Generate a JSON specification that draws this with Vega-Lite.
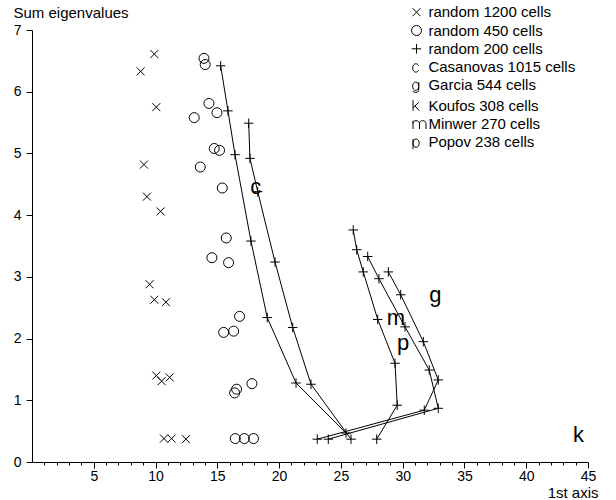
{
  "$schema": "https://vega.github.io/schema/vega-lite/v6.json",
  "width": 556,
  "height": 432,
  "autosize": "none",
  "padding": {"left": 32, "top": 30, "right": 28, "bottom": 38},
  "background": "white",
  "config": {
    "view": {"stroke": null},
    "font": "Liberation Sans",
    "axis": {
      "grid": false,
      "domainColor": "black",
      "tickColor": "black",
      "labelColor": "black",
      "titleColor": "black",
      "labelFont": "Liberation Sans",
      "titleFont": "Liberation Sans",
      "labelFontSize": 14,
      "titleFontSize": 15,
      "titleFontWeight": "normal",
      "domainWidth": 1,
      "tickWidth": 1
    }
  },
  "datasets": {
    "pts": [
      {"series": "random 1200 cells", "x": 9.90, "y": 6.61},
      {"series": "random 1200 cells", "x": 8.79, "y": 6.33},
      {"series": "random 1200 cells", "x": 10.06, "y": 5.75},
      {"series": "random 1200 cells", "x": 9.06, "y": 4.82},
      {"series": "random 1200 cells", "x": 9.30, "y": 4.30},
      {"series": "random 1200 cells", "x": 10.41, "y": 4.06},
      {"series": "random 1200 cells", "x": 9.52, "y": 2.88},
      {"series": "random 1200 cells", "x": 9.90, "y": 2.63},
      {"series": "random 1200 cells", "x": 10.84, "y": 2.59},
      {"series": "random 1200 cells", "x": 10.06, "y": 1.40},
      {"series": "random 1200 cells", "x": 10.49, "y": 1.31},
      {"series": "random 1200 cells", "x": 11.14, "y": 1.37},
      {"series": "random 1200 cells", "x": 10.68, "y": 0.38},
      {"series": "random 1200 cells", "x": 11.30, "y": 0.38},
      {"series": "random 1200 cells", "x": 12.46, "y": 0.37},
      {"series": "random 450 cells", "x": 13.92, "y": 6.54},
      {"series": "random 450 cells", "x": 14.02, "y": 6.44},
      {"series": "random 450 cells", "x": 14.32, "y": 5.81},
      {"series": "random 450 cells", "x": 13.13, "y": 5.58},
      {"series": "random 450 cells", "x": 14.97, "y": 5.66},
      {"series": "random 450 cells", "x": 14.75, "y": 5.08},
      {"series": "random 450 cells", "x": 15.18, "y": 5.05},
      {"series": "random 450 cells", "x": 13.62, "y": 4.78},
      {"series": "random 450 cells", "x": 15.40, "y": 4.44},
      {"series": "random 450 cells", "x": 15.72, "y": 3.63},
      {"series": "random 450 cells", "x": 14.56, "y": 3.31},
      {"series": "random 450 cells", "x": 15.91, "y": 3.23},
      {"series": "random 450 cells", "x": 16.80, "y": 2.36},
      {"series": "random 450 cells", "x": 15.51, "y": 2.10},
      {"series": "random 450 cells", "x": 16.32, "y": 2.12},
      {"series": "random 450 cells", "x": 17.80, "y": 1.27},
      {"series": "random 450 cells", "x": 16.56, "y": 1.18},
      {"series": "random 450 cells", "x": 16.40, "y": 1.12},
      {"series": "random 450 cells", "x": 16.45, "y": 0.38},
      {"series": "random 450 cells", "x": 17.18, "y": 0.38},
      {"series": "random 450 cells", "x": 17.93, "y": 0.38},
      {"series": "random 200 cells", "path": "A", "x": 15.27, "y": 6.42},
      {"series": "random 200 cells", "path": "A", "x": 15.86, "y": 5.69},
      {"series": "random 200 cells", "path": "A", "x": 16.43, "y": 4.98},
      {"series": "random 200 cells", "path": "A", "x": 17.72, "y": 3.58},
      {"series": "random 200 cells", "path": "A", "x": 19.04, "y": 2.34},
      {"series": "random 200 cells", "path": "A", "x": 21.37, "y": 1.28},
      {"series": "random 200 cells", "path": "A", "x": 25.41, "y": 0.47},
      {"series": "random 200 cells", "path": "B", "x": 17.54, "y": 5.49},
      {"series": "random 200 cells", "path": "B", "x": 17.64, "y": 4.92},
      {"series": "random 200 cells", "path": "B", "x": 18.27, "y": 4.38},
      {"series": "random 200 cells", "path": "B", "x": 19.67, "y": 3.24},
      {"series": "random 200 cells", "path": "B", "x": 21.10, "y": 2.18},
      {"series": "random 200 cells", "path": "B", "x": 22.58, "y": 1.26},
      {"series": "random 200 cells", "path": "B", "x": 25.82, "y": 0.37},
      {"series": "random 200 cells", "path": "C", "x": 26.00, "y": 3.76},
      {"series": "random 200 cells", "path": "C", "x": 26.28, "y": 3.44},
      {"series": "random 200 cells", "path": "C", "x": 26.81, "y": 3.08},
      {"series": "random 200 cells", "path": "C", "x": 27.98, "y": 2.31},
      {"series": "random 200 cells", "path": "C", "x": 29.38, "y": 1.60},
      {"series": "random 200 cells", "path": "C", "x": 29.56, "y": 0.92},
      {"series": "random 200 cells", "path": "C", "x": 27.90, "y": 0.37},
      {"series": "random 200 cells", "path": "D", "x": 27.17, "y": 3.33},
      {"series": "random 200 cells", "path": "D", "x": 28.08, "y": 2.97},
      {"series": "random 200 cells", "path": "D", "x": 30.19, "y": 2.19},
      {"series": "random 200 cells", "path": "D", "x": 32.15, "y": 1.49},
      {"series": "random 200 cells", "path": "D", "x": 32.88, "y": 0.87},
      {"series": "random 200 cells", "path": "D", "x": 23.98, "y": 0.37},
      {"series": "random 200 cells", "path": "E", "x": 28.84, "y": 3.08},
      {"series": "random 200 cells", "path": "E", "x": 29.84, "y": 2.71},
      {"series": "random 200 cells", "path": "E", "x": 31.67, "y": 1.95},
      {"series": "random 200 cells", "path": "E", "x": 32.88, "y": 1.33},
      {"series": "random 200 cells", "path": "E", "x": 31.75, "y": 0.84},
      {"series": "random 200 cells", "path": "E", "x": 23.09, "y": 0.37}
    ],
    "letters": [
      {"letter": "c", "name": "Casanovas 1015 cells", "x": 18.10, "y": 4.35},
      {"letter": "g", "name": "Garcia 544 cells", "x": 32.64, "y": 2.60},
      {"letter": "k", "name": "Koufos 308 cells", "x": 44.23, "y": 0.33},
      {"letter": "m", "name": "Minwer 270 cells", "x": 29.45, "y": 2.22},
      {"letter": "p", "name": "Popov 238 cells", "x": 30.03, "y": 1.815}
    ]
  },
  "data": {"name": "pts"},
  "encoding": {
    "x": {
      "field": "x",
      "type": "quantitative",
      "scale": {"domain": [0, 45], "nice": false, "zero": false},
      "axis": {
        "title": "1st axis",
        "titleAlign": "right",
        "titleAnchor": null,
        "titleX": 566,
        "titleY": 35,
        "titleBaseline": "alphabetic",
        "values": [1,2,3,4,5,6,7,8,9,10,11,12,13,14,15,16,17,18,19,20,21,22,23,24,25,26,27,28,29,30,31,32,33,34,35,36,37,38,39,40,41,42,43,44,45],
        "labelExpr": "datum.value % 5 === 0 ? datum.label : ''",
        "tickSize": {"condition": {"test": "datum.value % 5 === 0", "value": 6}, "value": 3},
        "labelPadding": 1,
        "labelFlush": false,
        "labelOverlap": false
      }
    },
    "y": {
      "field": "y",
      "type": "quantitative",
      "scale": {"domain": [0, 7], "nice": false, "zero": false},
      "axis": {
        "title": "Sum eigenvalues",
        "titleAngle": 0,
        "titleAlign": "left",
        "titleAnchor": null,
        "titleX": -19,
        "titleY": -13,
        "titleBaseline": "alphabetic",
        "values": [0,0.5,1,1.5,2,2.5,3,3.5,4,4.5,5,5.5,6,6.5,7],
        "format": "d",
        "labelExpr": "datum.value % 1 === 0 ? datum.label : ''",
        "tickSize": {"condition": {"test": "datum.value % 1 === 0", "value": 6}, "value": 2.5},
        "labelPadding": 5,
        "labelFlush": false,
        "labelOverlap": false
      }
    }
  },
  "layer": [
    {
      "transform": [{"filter": "datum.series === 'random 200 cells'"}],
      "mark": {"type": "line", "color": "black", "strokeWidth": 1},
      "encoding": {
        "detail": {"field": "path", "type": "nominal"},
        "order": {"value": null}
      }
    },
    {
      "mark": {"type": "point", "filled": false, "color": "black", "strokeWidth": 1, "size": 100, "opacity": 1},
      "encoding": {
        "shape": {
          "field": "series",
          "type": "nominal",
          "scale": {
            "domain": ["random 1200 cells", "random 450 cells", "random 200 cells", "Casanovas 1015 cells", "Garcia 544 cells", "Koufos 308 cells", "Minwer 270 cells", "Popov 238 cells"],
            "range": [
              "M-0.8,-0.8L0.8,0.8M-0.8,0.8L0.8,-0.8",
              "circle",
              "M-0.95,0L0.95,0M0,-0.95L0,0.95",
              "M0.42,-0.3C0.3,-0.55 0.1,-0.67 -0.15,-0.67C-0.5,-0.67 -0.77,-0.3 -0.77,0.17C-0.77,0.64 -0.5,1 -0.15,1C0.1,1 0.3,0.88 0.42,0.64",
              "M0.45,0.17C0.45,0.64 0.18,1 -0.17,1C-0.52,1 -0.78,0.64 -0.78,0.17C-0.78,-0.3 -0.52,-0.67 -0.17,-0.67C0.18,-0.67 0.45,-0.3 0.45,0.17M0.45,-0.67L0.45,1.05C0.45,1.3 0.2,1.38 -0.15,1.38C-0.4,1.38 -0.6,1.32 -0.7,1.2",
              "M-0.7,-1.14L-0.7,1M0.45,-0.67L-0.7,0.4M-0.3,0.05L0.55,1",
              "M-0.7,-0.67L-0.7,1M-0.7,-0.1C-0.7,-0.45 -0.45,-0.67 -0.1,-0.67C0.3,-0.67 0.6,-0.45 0.6,-0.1L0.6,1M0.6,-0.1C0.6,-0.45 0.85,-0.67 1.2,-0.67C1.6,-0.67 1.9,-0.45 1.9,-0.1L1.9,1",
              "M-0.7,-0.67L-0.7,1.38M-0.7,0.17C-0.7,-0.3 -0.43,-0.67 -0.08,-0.67C0.27,-0.67 0.54,-0.3 0.54,0.17C0.54,0.64 0.27,1 -0.08,1C-0.43,1 -0.7,0.64 -0.7,0.17"
            ]
          },
          "legend": {
            "orient": "none",
            "legendX": 377,
            "legendY": -25.3,
            "title": null,
            "padding": 0,
            "labelFont": "Liberation Sans",
            "labelFontSize": 15,
            "labelColor": "black",
            "symbolSize": 100,
            "symbolStrokeWidth": 1,
            "symbolStrokeColor": "black",
            "symbolFillColor": "transparent",
            "symbolOpacity": 1,
            "labelOffset": 4.4,
            "rowPadding": 2.3,
            "symbolOffset": 0
          }
        }
      }
    },
    {
      "data": {"name": "letters"},
      "mark": {"type": "text", "fontSize": 22, "align": "center", "baseline": "alphabetic", "color": "black", "font": "Liberation Sans"},
      "encoding": {
        "text": {"field": "letter", "type": "nominal"}
      }
    }
  ]
}
